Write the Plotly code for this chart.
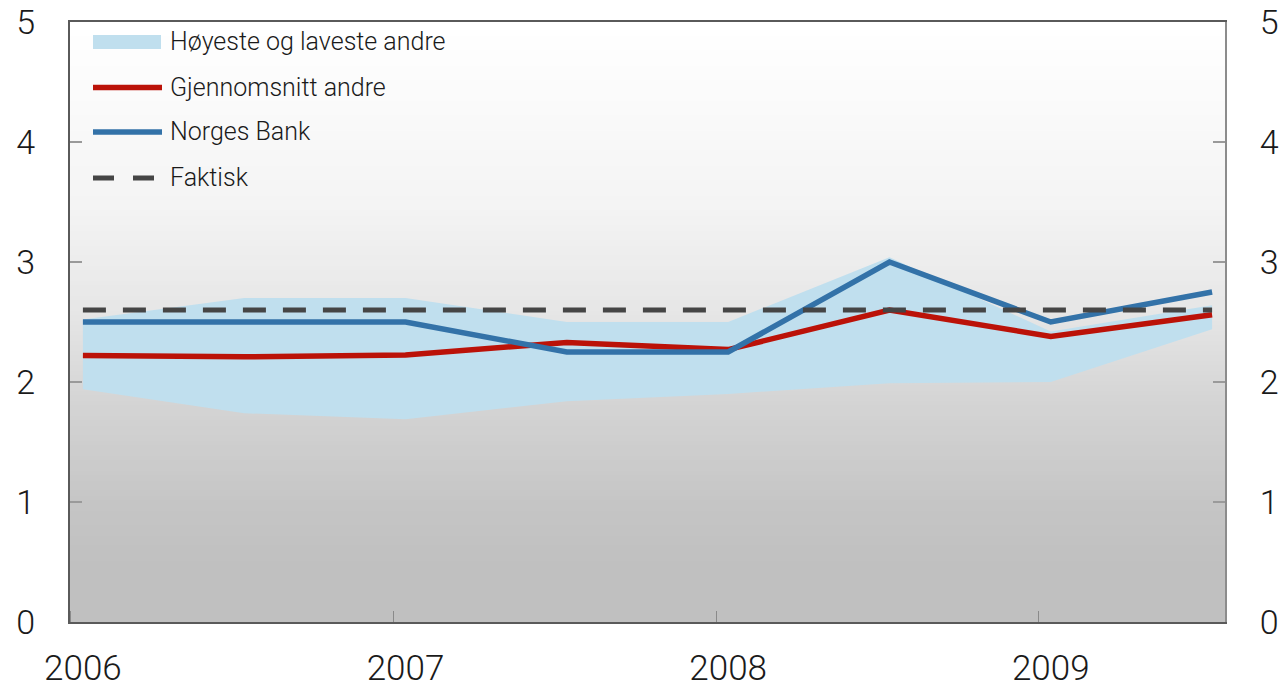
import numpy as np
import plotly.graph_objects as go

# ---- data (half-yearly observations) ----
years = ["2006", "2007", "2008", "2009"]
hoyeste = [2.52, 2.70, 2.70, 2.50, 2.50, 3.04, 2.42, 2.64]   # highest of others
laveste = [1.94, 1.74, 1.69, 1.84, 1.90, 1.99, 2.00, 2.44]   # lowest of others
snitt = [2.22, 2.21, 2.225, 2.33, 2.27, 2.60, 2.38, 2.56]    # average of others
norges_bank = [2.50, 2.50, 2.50, 2.25, 2.25, 3.00, 2.50, 2.75]
faktisk = [2.6, 2.6, 2.6, 2.6, 2.6, 2.6, 2.6, 2.6]
y_ticks = [0, 1, 2, 3, 4, 5]

x = list(range(len(snitt)))

FONT = "Roboto, Liberation Sans, Arial, sans-serif"
BAND = "#c0dfee"
RED = "#bb1208"
BLUE = "#3372a8"
DARK = "#454545"
TXT = "#1a1a1a"

fig = go.Figure()

fig.add_trace(go.Scatter(x=x, y=laveste, mode="lines", line=dict(width=0, color=BAND),
                         showlegend=False, hoverinfo="skip"))
fig.add_trace(go.Scatter(x=x, y=hoyeste, mode="lines", line=dict(width=0, color=BAND),
                         fill="tonexty", fillcolor=BAND, name="Høyeste og laveste andre",
                         showlegend=False))
fig.add_trace(go.Scatter(x=x, y=faktisk, mode="lines", name="Faktisk",
                         line=dict(color=DARK, width=5, dash="23px,17px"),
                         showlegend=False, yaxis="y2"))
fig.add_trace(go.Scatter(x=x, y=snitt, mode="lines", name="Gjennomsnitt andre",
                         line=dict(color=RED, width=5.5), showlegend=False))
fig.add_trace(go.Scatter(x=x, y=norges_bank, mode="lines", name="Norges Bank",
                         line=dict(color=BLUE, width=5.5), showlegend=False))

# ---- gradient background (overlapping bands to avoid seams) ----
shapes = []
stops_v = [0.0, 0.5, 1.0, 1.85, 2.6, 3.5, 5.0]
stops_c = [192, 192, 197, 212, 230, 244, 255]
n = 120
for i in range(n):
    v0 = 5 * i / n
    v1 = 5 * (i + 1) / n
    c = int(round(np.interp((v0 + v1) / 2, stops_v, stops_c)))
    shapes.append(dict(type="rect", xref="paper", yref="y", x0=0, x1=1,
                       y0=max(0, v0 - 0.03), y1=v1,
                       fillcolor=f"rgb({c},{c},{c})", line=dict(width=0), layer="below"))

# ---- manual legend (positions in target-page pixels) ----
L, W, T, H = 70, 1155, 22, 600
def px(xp):
    return (xp - L) / W
def py(yp):
    return (T + H - yp) / H

shapes.append(dict(type="rect", xref="paper", yref="paper", x0=px(93), x1=px(161),
                   y0=py(49), y1=py(35), fillcolor=BAND, line=dict(width=0)))
shapes.append(dict(type="line", xref="paper", yref="paper", x0=px(93), x1=px(162),
                   y0=py(87.5), y1=py(87.5), line=dict(color=RED, width=5.5)))
shapes.append(dict(type="line", xref="paper", yref="paper", x0=px(93), x1=px(162),
                   y0=py(132), y1=py(132), line=dict(color=BLUE, width=5.5)))
shapes.append(dict(type="line", xref="paper", yref="paper", x0=px(93), x1=px(154),
                   y0=py(178), y1=py(178), line=dict(color=DARK, width=5, dash="21px,19px")))

legend_items = [("Høyeste og laveste andre", 41.7), ("Gjennomsnitt andre", 87.5),
                ("Norges Bank", 131.7), ("Faktisk", 177.5)]
annotations = [dict(text=t, x=px(168), y=py(yy), xref="paper", yref="paper",
                    xanchor="left", yanchor="middle", showarrow=False,
                    font=dict(family=FONT, size=25, color=TXT, weight=300))
               for t, yy in legend_items]

xr = [-0.08, len(x) - 1 + 0.08]

# the page body has an 8px margin, so the figure is offset by 8px
OFF = 8
fig.update_layout(
    width=1287 - OFF, height=687 - OFF,
    margin=dict(l=70 - OFF, r=62, t=22 - OFF, b=65, autoexpand=False),
    paper_bgcolor="white",
    plot_bgcolor="rgba(0,0,0,0)",
    shapes=shapes,
    annotations=annotations,
    font=dict(family=FONT, color=TXT),
    xaxis=dict(
        range=xr, tickmode="array", tickvals=[0, 2, 4, 6], ticktext=years,
        ticks="", showgrid=False, zeroline=False, automargin=False,
        showline=True, linecolor="#5a5a5a", linewidth=2, mirror=True,
        tickfont=dict(family=FONT, size=35, color=TXT, weight=300),
        ticklabelstandoff=14, ticklabeloverflow="allow",
        minor=dict(ticks="inside", tick0=-0.075, dtick=2, ticklen=11,
                   tickcolor="#8a8a8a", tickwidth=1, showgrid=False),
    ),
    yaxis=dict(
        range=[0, 5], tickvals=y_ticks, ticks="inside", ticklen=12, tickcolor="#9a9a9a",
        tickwidth=1.5, showgrid=False, zeroline=False, automargin=False,
        showline=True, linecolor="#5a5a5a", linewidth=2,
        tickfont=dict(family=FONT, size=34, color=TXT, weight=300),
        ticklabelstandoff=26, ticklabeloverflow="allow",
    ),
    yaxis2=dict(
        range=[0, 5], tickvals=y_ticks, overlaying="y", side="right", ticks="inside",
        ticklen=12, tickcolor="#9a9a9a", tickwidth=1.5, showgrid=False, zeroline=False,
        automargin=False,
        showline=True, linecolor="#8c8c8c", linewidth=2,
        tickfont=dict(family=FONT, size=34, color=TXT, weight=300),
        ticklabelstandoff=26, ticklabeloverflow="allow",
    ),
)

fig.write_html("out.html")
